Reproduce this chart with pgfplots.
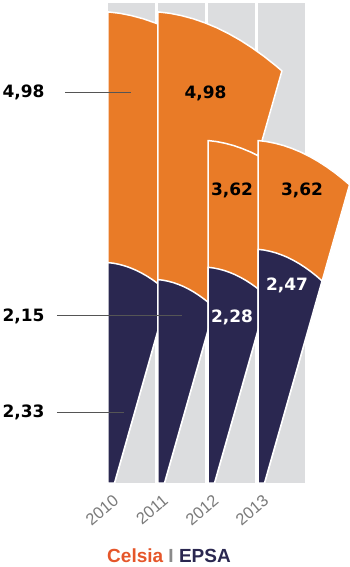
\documentclass[border=0pt]{standalone}
\usepackage{pgfplots}
\pgfplotsset{compat=1.18}
\usepackage{fontspec}
\setmainfont{Liberation Sans}
\newfontfamily\numfont{DejaVu Sans}
\definecolor{corange}{HTML}{E97B27}
\definecolor{cnavy}{HTML}{2A2750}
\definecolor{cgray}{HTML}{DCDDDF}
\definecolor{celsia}{HTML}{E5562A}
\definecolor{sepgray}{HTML}{8A8A8A}
\definecolor{yeargray}{HTML}{7A7A7A}
\definecolor{leader}{HTML}{555555}
\tikzset{
  wedge/.style={draw=white, line width=1.5pt, line join=round, mark=none},
  num/.style={inner sep=0pt, font=\numfont\bfseries\fontsize{17}{17}\selectfont},
  yr/.style={inner sep=0pt, text=yeargray, rotate=40, font=\fontsize{16.5}{16.5}\selectfont},
}
\begin{document}
\begin{tikzpicture}
\begin{axis}[
  width=350pt, height=567pt, scale only axis,
  xmin=-1.1416, xmax=2.5581, ymin=-0.8879, ymax=5.1057,
  hide axis, clip=false,
]
% gray background columns
\addplot[fill=cgray, draw=none, mark=none] coordinates {(0,0) (0,5.074) (0.4968,5.074) (0.4968,0)} -- cycle;
\addplot[fill=cgray, draw=none, mark=none] coordinates {(0.5285,0) (0.5285,5.074) (1.0253,5.074) (1.0253,0)} -- cycle;
\addplot[fill=cgray, draw=none, mark=none] coordinates {(1.0571,0) (1.0571,5.074) (1.5539,5.074) (1.5539,0)} -- cycle;
\addplot[fill=cgray, draw=none, mark=none] coordinates {(1.5856,0) (1.5856,5.074) (2.0824,5.074) (2.0824,0)} -- cycle;
% 2010 Celsia 4.98
\addplot[wedge, fill=corange] coordinates {(0,0) (0,4.98) (0.1245,4.9651) (0.249,4.9402) (0.3735,4.9068) (0.498,4.8635) (0.6225,4.8117) (0.747,4.7499) (0.8715,4.6792) (0.996,4.5990) (1.1205,4.5099) (1.245,4.4113) (1.3100,4.3560) (0.0687,0)} -- cycle;
% 2010 EPSA 2.33
\addplot[wedge, fill=cnavy] coordinates {(0,0) (0,2.33) (0.0583,2.3230) (0.1165,2.3114) (0.1748,2.2957) (0.233,2.2755) (0.2913,2.2512) (0.3495,2.2224) (0.4078,2.1893) (0.466,2.1518) (0.5243,2.1100) (0.5825,2.0639) (0.6419,2.0123) (0.0687,0)} -- cycle;
% 2011 Celsia 4.98
\addplot[wedge, fill=corange] coordinates {(0.5285,0) (0.5285,4.98) (0.653,4.9651) (0.7775,4.9402) (0.902,4.9068) (1.0265,4.8635) (1.151,4.8117) (1.2755,4.7499) (1.4,4.6792) (1.5245,4.5990) (1.649,4.5099) (1.7735,4.4113) (1.8385,4.3560) (0.5972,0)} -- cycle;
% 2011 EPSA 2.15
\addplot[wedge, fill=cnavy] coordinates {(0.5285,0) (0.5285,2.15) (0.5823,2.1436) (0.636,2.1328) (0.6898,2.1184) (0.7435,2.0997) (0.7973,2.0773) (0.851,2.0507) (0.9048,2.0201) (0.9585,1.9855) (1.0123,1.9470) (1.066,1.9045) (1.1251,1.8523) (0.5972,0)} -- cycle;
% 2012 Celsia 3.62
\addplot[wedge, fill=corange] coordinates {(1.0571,0) (1.0571,3.62) (1.1476,3.6091) (1.2381,3.5910) (1.3286,3.5668) (1.4191,3.5353) (1.5096,3.4976) (1.6001,3.4528) (1.6906,3.4014) (1.7811,3.3431) (1.8716,3.2783) (1.9621,3.2066) (2.0249,3.1527) (1.1258,0)} -- cycle;
% 2012 EPSA 2.28
\addplot[wedge, fill=cnavy] coordinates {(1.0571,0) (1.0571,2.28) (1.1141,2.2732) (1.1711,2.2618) (1.2281,2.2465) (1.2851,2.2266) (1.3421,2.2029) (1.3991,2.1747) (1.4561,2.1423) (1.5131,2.1056) (1.5701,2.0648) (1.6271,2.0196) (1.6865,1.9681) (1.1258,0)} -- cycle;
% 2013 Celsia 3.62
\addplot[wedge, fill=corange] coordinates {(1.5856,0) (1.5856,3.62) (1.6761,3.6091) (1.7666,3.5910) (1.8571,3.5668) (1.9476,3.5353) (2.0381,3.4976) (2.1286,3.4528) (2.2191,3.4014) (2.3096,3.3431) (2.4001,3.2783) (2.4906,3.2066) (2.5534,3.1527) (1.6543,0)} -- cycle;
% 2013 EPSA 2.47
\addplot[wedge, fill=cnavy] coordinates {(1.5856,0) (1.5856,2.47) (1.6474,2.4626) (1.7091,2.4502) (1.7709,2.4337) (1.8326,2.4122) (1.8944,2.3865) (1.9561,2.3559) (2.0179,2.3208) (2.0796,2.2810) (2.1414,2.2368) (2.2031,2.1879) (2.2631,2.1358) (1.6543,0)} -- cycle;
% leader lines and labels
\draw[leader, line width=0.8pt] (axis cs:-0.4545,4.1300) -- (axis cs:0.2431,4.1300);
\draw[leader, line width=0.8pt] (axis cs:-0.5391,1.7685) -- (axis cs:0.7822,1.7685);
\draw[leader, line width=0.8pt] (axis cs:-0.5391,0.7474) -- (axis cs:0.1691,0.7474);
\node[num] at (axis cs:-0.8932,4.133) {4,98};
\node[num] at (axis cs:-0.8932,1.758) {2,15};
\node[num] at (axis cs:-0.8932,0.745) {2,33};
\node[num] at (axis cs:1.0307,4.1173) {4,98};
\node[num] at (axis cs:1.3108,3.0973) {3,62};
\node[num] at (axis cs:2.0507,3.0973) {3,62};
\node[num, text=white] at (axis cs:1.3108,1.7548) {2,28};
\node[num, text=white] at (axis cs:1.8922,2.0930) {2,47};
% years
\node[yr] at (axis cs:-0.0634,-0.2854) {2010};
\node[yr] at (axis cs:0.4651,-0.2854) {2011};
\node[yr] at (axis cs:0.9937,-0.2854) {2012};
\node[yr] at (axis cs:1.5222,-0.2854) {2013};
% legend
\node[font=\bfseries\fontsize{19}{19}\selectfont, inner sep=0pt] at (axis cs:0.6448,-0.7717) {\textcolor{celsia}{Celsia} \textcolor{sepgray}{I} \textcolor{cnavy}{EPSA}};
\end{axis}
\pgfresetboundingbox
\path[use as bounding box] (current axis.south west) rectangle (current axis.north east);
\end{tikzpicture}
\end{document}
